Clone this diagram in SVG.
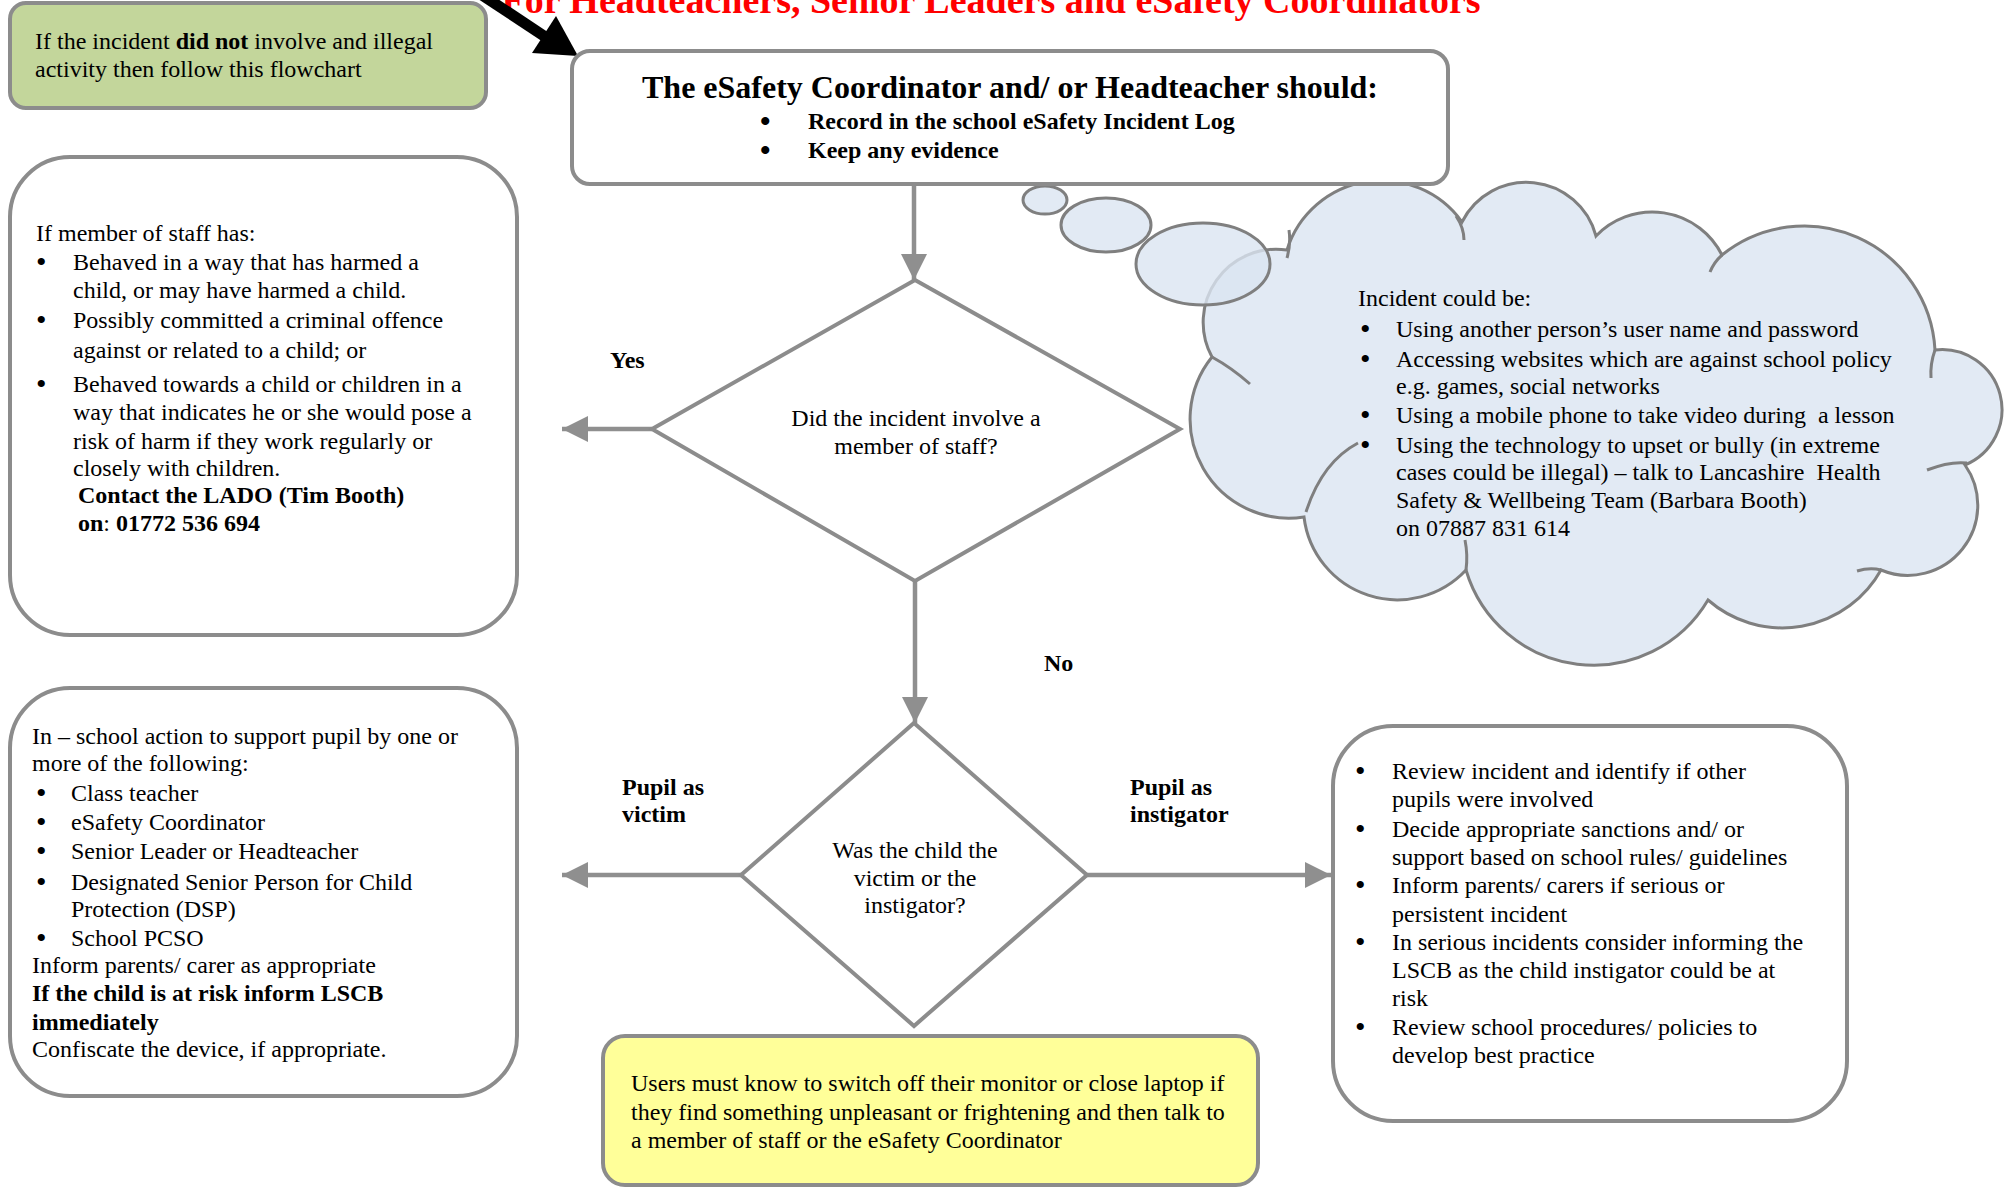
<svg xmlns="http://www.w3.org/2000/svg" width="2015" height="1192" viewBox="0 0 2015 1192">
<defs>
<style>
text { font-family: "Liberation Serif", "Times New Roman", serif; font-size: 24px; fill: #000; }
.b { font-weight: bold; }
.bul { font-size: 30px; }
.box { fill: #fff; stroke: #8c8c8c; stroke-width: 4; }
.dia { fill: #fff; stroke: #8c8c8c; stroke-width: 4; }
.conn { stroke: #8f8f8f; stroke-width: 4.5; fill: none; }
.cloud { fill: #dbe5f1; fill-opacity: 0.8; stroke: #7f7f7f; stroke-width: 3; }
.inner { fill: none; stroke: #7f7f7f; stroke-width: 3; }
.title { font-size: 38px; font-weight: bold; fill: #ff0000; }
.mid { text-anchor: middle; }
</style>
<marker id="ah" markerUnits="userSpaceOnUse" markerWidth="26" markerHeight="26" viewBox="0 0 26 26" refX="26" refY="13" orient="auto"><path d="M0,0 L26,13 L0,26 Z" fill="#8f8f8f"/></marker>
</defs>
<rect width="2015" height="1192" fill="#fff"/>

<text class="title mid" x="991" y="13">For Headteachers, Senior Leaders and eSafety Coordinators</text>

<g id="cloud-node">
<path class="cloud" d="M 1287 250 A 99 99 0 0 1 1462 222 A 72 72 0 0 1 1596 236 A 78 78 0 0 1 1722 255 A 131 131 0 0 1 1935 350 A 60 60 0 0 1 1965 465 A 70 70 0 0 1 1881 570 A 113 113 0 0 1 1708 600 A 133 133 0 0 1 1466 570 A 94 94 0 0 1 1304 517 A 99 99 0 0 1 1212 357 A 73 73 0 0 1 1287 250 Z"/>
<path class="inner" d="M 1289 230 Q 1291 244 1287 258"/>
<path class="inner" d="M 1456 216 Q 1464 228 1464 240"/>
<path class="inner" d="M 1722 255 Q 1714 262 1710 272"/>
<path class="inner" d="M 1935 350 Q 1930 364 1931 378"/>
<path class="inner" d="M 1967 463 Q 1950 461 1927 470"/>
<path class="inner" d="M 1881 570 Q 1870 567 1857 571"/>
<path class="inner" d="M 1466 570 Q 1468 555 1465 540"/>
<path class="inner" d="M 1358 443 Q 1322 462 1306 512"/>
<path class="inner" d="M 1212 357 Q 1232 368 1250 384"/>
<ellipse class="cloud" cx="1045" cy="200" rx="22" ry="14"/>
<ellipse class="cloud" cx="1106" cy="225" rx="45" ry="27"/>
<ellipse class="cloud" cx="1203" cy="264" rx="67" ry="41"/>
<text x="1358" y="306">Incident could be:</text>
<text class="bul" x="1360" y="339">•</text><text x="1396" y="337">Using another person’s user name and password</text>
<text class="bul" x="1360" y="369">•</text><text x="1396" y="367">Accessing websites which are against school policy</text>
<text x="1396" y="394">e.g. games, social networks</text>
<text class="bul" x="1360" y="425">•</text><text x="1396" y="423" xml:space="preserve">Using a mobile phone to take video during  a lesson</text>
<text class="bul" x="1360" y="455">•</text><text x="1396" y="453">Using the technology to upset or bully (in extreme</text>
<text x="1396" y="480" xml:space="preserve">cases could be illegal) – talk to Lancashire  Health</text>
<text x="1396" y="508">Safety &amp; Wellbeing Team (Barbara Booth)</text>
<text x="1396" y="536">on 07887 831 614</text>
</g>

<g id="connectors">
<line class="conn" x1="914" y1="184" x2="914" y2="280" marker-end="url(#ah)"/>
<line class="conn" x1="652" y1="429" x2="562" y2="429" marker-end="url(#ah)"/>
<line class="conn" x1="915" y1="581" x2="915" y2="723" marker-end="url(#ah)"/>
<line class="conn" x1="741" y1="875" x2="562" y2="875" marker-end="url(#ah)"/>
<line class="conn" x1="1087" y1="875" x2="1331" y2="875" marker-end="url(#ah)"/>
<line x1="482" y1="-5" x2="550" y2="40" stroke="#000" stroke-width="11"/>
<polygon points="578,56 532,53 556,16" fill="#000"/>
<text class="b" x="610" y="368">Yes</text>
<text class="b" x="1044" y="671">No</text>
<text class="b" x="622" y="795">Pupil as</text>
<text class="b" x="622" y="822">victim</text>
<text class="b" x="1130" y="795">Pupil as</text>
<text class="b" x="1130" y="822">instigator</text>
</g>

<g id="note-green">
<rect x="10" y="3" width="476" height="105" rx="16" fill="#c3d69b" stroke="#8c8c8c" stroke-width="4"/>
<text x="35" y="49">If the incident <tspan class="b">did not</tspan> involve and illegal</text>
<text x="35" y="77">activity then follow this flowchart</text>
</g>

<g id="coordinator-box">
<rect class="box" x="572" y="51" width="876" height="133" rx="18"/>
<text class="b mid" x="1010" y="98" style="font-size:32px">The eSafety Coordinator and/ or Headteacher should:</text>
<text class="b bul" x="760" y="131">•</text><text class="b" x="808" y="129">Record in the school eSafety Incident Log</text>
<text class="b bul" x="760" y="160">•</text><text class="b" x="808" y="158">Keep any evidence</text>
</g>

<g id="decision-staff">
<polygon class="dia" points="915,280 1180,429 915,581 652,429"/>
<text class="mid" x="916" y="426">Did the incident involve a</text>
<text class="mid" x="916" y="454">member of staff?</text>
</g>

<g id="decision-child">
<polygon class="dia" points="914,723 1087,875 914,1026 741,875"/>
<text class="mid" x="915" y="858">Was the child the</text>
<text class="mid" x="915" y="886">victim or the</text>
<text class="mid" x="915" y="913">instigator?</text>
</g>

<g id="staff-box">
<rect class="box" x="10" y="157" width="507" height="478" rx="60"/>
<text x="36" y="241">If member of staff has:</text>
<text class="bul" x="36" y="272">•</text><text x="73" y="270">Behaved in a way that has harmed a</text>
<text x="73" y="298">child, or may have harmed a child.</text>
<text class="bul" x="36" y="330">•</text><text x="73" y="328">Possibly committed a criminal offence</text>
<text x="73" y="358">against or related to a child; or</text>
<text class="bul" x="36" y="394">•</text><text x="73" y="392">Behaved towards a child or children in a</text>
<text x="73" y="420">way that indicates he or she would pose a</text>
<text x="73" y="449">risk of harm if they work regularly or</text>
<text x="73" y="476">closely with children.</text>
<text class="b" x="78" y="503">Contact the LADO (Tim Booth)</text>
<text x="78" y="531"><tspan class="b">on</tspan>: <tspan class="b">01772 536 694</tspan></text>
</g>

<g id="victim-box">
<rect class="box" x="10" y="688" width="507" height="408" rx="60"/>
<text x="32" y="744">In – school action to support pupil by one or</text>
<text x="32" y="771">more of the following:</text>
<text class="bul" x="36" y="803">•</text><text x="71" y="801">Class teacher</text>
<text class="bul" x="36" y="832">•</text><text x="71" y="830">eSafety Coordinator</text>
<text class="bul" x="36" y="861">•</text><text x="71" y="859">Senior Leader or Headteacher</text>
<text class="bul" x="36" y="892">•</text><text x="71" y="890">Designated Senior Person for Child</text>
<text x="71" y="917">Protection (DSP)</text>
<text class="bul" x="36" y="948">•</text><text x="71" y="946">School PCSO</text>
<text x="32" y="973">Inform parents/ carer as appropriate</text>
<text class="b" x="32" y="1001">If the child is at risk inform LSCB</text>
<text class="b" x="32" y="1030">immediately</text>
<text x="32" y="1057">Confiscate the device, if appropriate.</text>
</g>

<g id="instigator-box">
<rect class="box" x="1333" y="726" width="514" height="395" rx="60"/>
<text class="bul" x="1355" y="781">•</text><text x="1392" y="779">Review incident and identify if other</text>
<text x="1392" y="807">pupils were involved</text>
<text class="bul" x="1355" y="839">•</text><text x="1392" y="837">Decide appropriate sanctions and/ or</text>
<text x="1392" y="865">support based on school rules/ guidelines</text>
<text class="bul" x="1355" y="895">•</text><text x="1392" y="893">Inform parents/ carers if serious or</text>
<text x="1392" y="922">persistent incident</text>
<text class="bul" x="1355" y="952">•</text><text x="1392" y="950">In serious incidents consider informing the</text>
<text x="1392" y="978">LSCB as the child instigator could be at</text>
<text x="1392" y="1006">risk</text>
<text class="bul" x="1355" y="1037">•</text><text x="1392" y="1035">Review school procedures/ policies to</text>
<text x="1392" y="1063">develop best practice</text>
</g>

<g id="note-yellow">
<rect x="603" y="1036" width="655" height="149" rx="22" fill="#ffff99" stroke="#8c8c8c" stroke-width="4"/>
<text x="631" y="1091">Users must know to switch off their monitor or close laptop if</text>
<text x="631" y="1120">they find something unpleasant or frightening and then talk to</text>
<text x="631" y="1148">a member of staff or the eSafety Coordinator</text>
</g>
</svg>
